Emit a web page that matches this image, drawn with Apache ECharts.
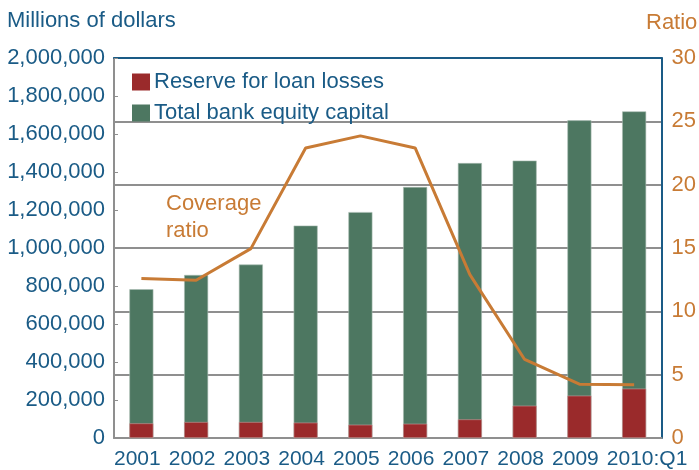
<!DOCTYPE html>
<html>
<head>
<meta charset="utf-8">
<script src="https://cdn.jsdelivr.net/npm/echarts@6/dist/echarts.min.js"></script>
<style>
html,body{margin:0;padding:0;background:#fff;}
#c{width:699px;height:470px;}
</style>
</head>
<body>
<div id="c"></div>
<script>
var categories = ['2001','2002','2003','2004','2005','2006','2007','2008','2009','2010:Q1'];
var reserve = [77000, 84000, 84000, 81000, 70000, 75000, 98000, 170000, 223000, 260000];
var equity = [783000, 858000, 913000, 1118000, 1189000, 1321000, 1447000, 1460000, 1672000, 1719000];
var ratio = [12.6, 12.45, 14.95, 22.9, 23.85, 22.9, 12.9, 6.2, 4.25, 4.2];
var leftTicks = [0, 2000000, 200000];
var rightTicks = [0, 30, 5];

var BLUE = '#1a5b86';
var ORANGE = '#c87b35';
var GRAY = '#8f8f8f';
var RED = '#9a2a2b';
var GREEN = '#4d7761';
var FONT = '"Liberation Sans", Arial, sans-serif';

var chart = echarts.init(document.getElementById('c'));
chart.setOption({
  animation: false,
  textStyle: {fontFamily: FONT},
  grid: {left: 114, right: 37, top: 58, bottom: 31},
  legend: {
    orient: 'vertical', left: 127, top: 66,
    itemWidth: 18, itemHeight: 17, itemGap: 9,
    icon: 'rect',
    itemStyle: {borderWidth: 0},
    data: ['Reserve for loan losses', 'Total bank equity capital'],
    textStyle: {fontSize: 22, color: BLUE, fontFamily: FONT, padding: [0,0,0,-1]}
  },
  graphic: [
    {type: 'text', left: 7, top: 10, style: {text: 'Millions of dollars', fontSize: 22, fill: BLUE, font: '22px ' + FONT}},
    {type: 'text', left: 646, top: 12, style: {text: 'Ratio', fontSize: 22, fill: ORANGE, font: '22px ' + FONT}},
    {type: 'text', left: 166, top: 190, style: {text: 'Coverage\nratio', fontSize: 22, lineHeight: 27, fill: ORANGE, font: '22px ' + FONT}}
  ],
  xAxis: [
    {
      type: 'category', data: categories, position: 'bottom',
      axisLine: {show: true, lineStyle: {color: GRAY, width: 2}},
      axisTick: {show: false}, axisLabel: {show: false}, splitLine: {show: false}
    },
    {
      type: 'value', min: 0, max: categories.length, interval: 1, position: 'bottom',
      axisLine: {show: false}, axisTick: {show: false}, splitLine: {show: false},
      axisLabel: {
        show: true, align: 'left', margin: 11, fontSize: 21, color: BLUE, fontFamily: FONT,
        showMaxLabel: false,
        formatter: function (v) { return categories[v] || ''; }
      }
    },
    {
      type: 'category', data: categories, position: 'top',
      axisLine: {show: true, lineStyle: {color: BLUE, width: 2}},
      axisTick: {show: false}, axisLabel: {show: false}, splitLine: {show: false}
    }
  ],
  yAxis: [
    {
      type: 'value', min: leftTicks[0], max: leftTicks[1], interval: leftTicks[2], position: 'left',
      axisLine: {show: true, lineStyle: {color: GRAY, width: 2}},
      axisTick: {show: true, inside: true, length: 4, lineStyle: {color: GRAY, width: 1}},
      splitLine: {show: false},
      axisLabel: {fontSize: 22, color: BLUE, margin: 9, fontFamily: FONT,
        formatter: function (v) { return v.toLocaleString('en-US'); }}
    },
    {
      type: 'value', min: rightTicks[0], max: rightTicks[1], interval: rightTicks[2], position: 'right',
      axisLine: {show: true, lineStyle: {color: BLUE, width: 2}},
      axisTick: {show: false},
      splitLine: {show: true, lineStyle: {color: GRAY, width: 2}},
      axisLabel: {fontSize: 22, color: ORANGE, margin: 10, fontFamily: FONT}
    }
  ],
  series: [
    {
      name: 'Total bank equity capital', type: 'bar', data: equity,
      xAxisIndex: 0, yAxisIndex: 0, barWidth: 24, barGap: '-100%',
      itemStyle: {color: GREEN, borderColor: '#a9bcb1', borderWidth: 0.6}
    },
    {
      name: 'Reserve for loan losses', type: 'bar', data: reserve,
      xAxisIndex: 0, yAxisIndex: 0, barWidth: 24, barGap: '-100%',
      itemStyle: {color: RED, borderColor: '#c99a9a', borderWidth: 0.6}
    },
    {
      name: 'Coverage ratio', type: 'line', data: ratio,
      xAxisIndex: 0, yAxisIndex: 1, symbol: 'none', z: 5,
      lineStyle: {color: ORANGE, width: 3}
    }
  ]
});
</script>
</body>
</html>
